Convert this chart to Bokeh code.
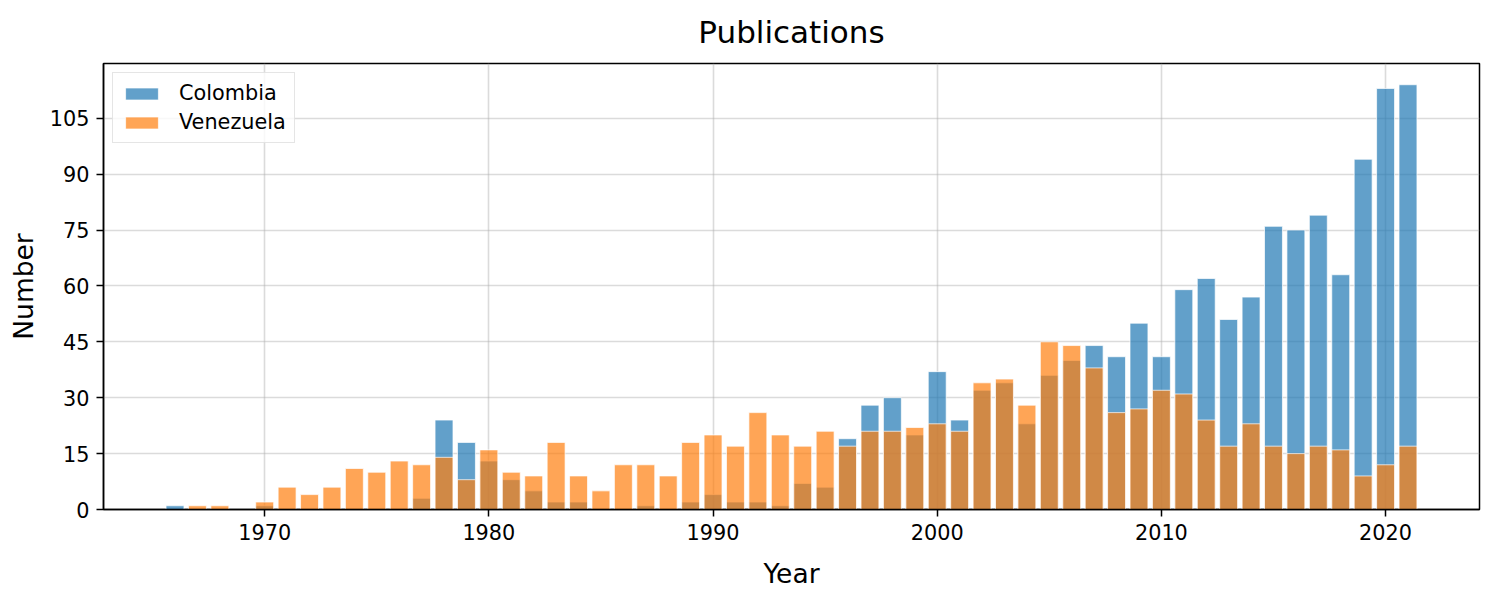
from bokeh.plotting import figure
from bokeh.models import Range1d, FixedTicker, Legend, LegendItem, ColumnDataSource
from bokeh.embed import file_html
from bokeh.resources import INLINE

# ---- data ----
colombia_years = [1966, 1970, 1977, 1978, 1979, 1980, 1981, 1982, 1983, 1984, 1987, 1989,
                  1990, 1991, 1992, 1993, 1994, 1995, 1996, 1997, 1998, 1999, 2000, 2001,
                  2002, 2003, 2004, 2005, 2006, 2007, 2008, 2009, 2010, 2011, 2012, 2013,
                  2014, 2015, 2016, 2017, 2018, 2019, 2020, 2021]
colombia = [1, 1, 3, 24, 18, 13, 8, 5, 2, 2, 1, 2,
            4, 2, 2, 1, 7, 6, 19, 28, 30, 20, 37, 24,
            32, 34, 23, 36, 40, 44, 41, 50, 41, 59, 62, 51,
            57, 76, 75, 79, 63, 94, 113, 114]

venezuela_years = [1967, 1968, 1970, 1971, 1972, 1973, 1974, 1975, 1976, 1977, 1978, 1979,
                   1980, 1981, 1982, 1983, 1984, 1985, 1986, 1987, 1988, 1989, 1990, 1991,
                   1992, 1993, 1994, 1995, 1996, 1997, 1998, 1999, 2000, 2001, 2002, 2003,
                   2004, 2005, 2006, 2007, 2008, 2009, 2010, 2011, 2012, 2013, 2014, 2015,
                   2016, 2017, 2018, 2019, 2020, 2021]
venezuela = [1, 1, 2, 6, 4, 6, 11, 10, 13, 12, 14, 8,
             16, 10, 9, 18, 9, 5, 12, 12, 9, 18, 20, 17,
             26, 20, 17, 21, 17, 21, 21, 22, 23, 21, 34, 35,
             28, 45, 44, 38, 26, 27, 32, 31, 24, 17, 23, 17,
             15, 17, 16, 9, 12, 17]

series_names = ["Colombia", "Venezuela"]
x_ticks = [1970, 1980, 1990, 2000, 2010, 2020]
y_ticks = [0, 15, 30, 45, 60, 75, 90, 105]

title_text = "Publications"
x_label = "Year"
y_label = "Number"

# ---- figure ----
FONT = "DejaVu Sans"
bar_w = 0.8
all_years = colombia_years + venezuela_years
xmin, xmax = min(all_years) - bar_w / 2, max(all_years) + bar_w / 2
xpad = (xmax - xmin) * 0.05
ymax = max(max(colombia), max(venezuela)) * 1.05

p = figure(width=1494, height=601, output_backend="svg", toolbar_location=None,
           x_range=Range1d(xmin - xpad, xmax + xpad), y_range=Range1d(0, ymax),
           min_border_left=103, min_border_right=15, min_border_top=63, min_border_bottom=92,
           title=title_text)

p.title.text_font = FONT
p.title.text_font_size = "31px"
p.title.text_font_style = "normal"
p.title.align = "center"
p.title.vertical_align = "top"
p.title.standoff = 23
p.title.text_color = "black"

blue = "#1f77b4"
orange = "#ff7f0e"

src_c = ColumnDataSource(dict(x=colombia_years, top=colombia))
src_v = ColumnDataSource(dict(x=venezuela_years, top=venezuela))
r1 = p.vbar(x="x", top="top", width=bar_w, bottom=0, source=src_c,
            fill_color=blue, fill_alpha=0.7, line_color="white", line_width=1, line_alpha=0.7)
r2 = p.vbar(x="x", top="top", width=bar_w, bottom=0, source=src_v,
            fill_color=orange, fill_alpha=0.7, line_color="white", line_width=1, line_alpha=0.7)

# axes
for ax in (p.xaxis[0], p.yaxis[0]):
    ax.major_label_text_font = FONT
    ax.major_label_text_font_size = "20.8px"
    ax.major_label_text_color = "black"
    ax.axis_label_text_font = FONT
    ax.axis_label_text_font_size = "26.5px"
    ax.axis_label_text_font_style = "normal"
    ax.axis_label_text_color = "black"
    ax.major_tick_out = 7
    ax.major_tick_in = 0
    ax.major_tick_line_width = 1.5
    ax.major_tick_line_color = "black"
    ax.minor_tick_line_color = None
    ax.axis_line_color = "black"
    ax.axis_line_width = 1.5
    ax.major_label_standoff = 7

p.xaxis.axis_label = x_label
p.yaxis.axis_label = y_label
p.xaxis.ticker = FixedTicker(ticks=x_ticks)
p.yaxis.ticker = FixedTicker(ticks=y_ticks)
p.xaxis.axis_label_standoff = 15
p.yaxis.axis_label_standoff = 8

p.xgrid.ticker = FixedTicker(ticks=x_ticks)
p.ygrid.ticker = FixedTicker(ticks=y_ticks)
for g in (p.xgrid[0], p.ygrid[0]):
    g.grid_line_color = "#b0b0b0"
    g.grid_line_alpha = 0.45
    g.grid_line_width = 1.6

p.outline_line_color = "black"
p.outline_line_width = 1.5
p.outline_line_alpha = 1.0
p.background_fill_color = "white"
p.border_fill_color = "white"

legend = Legend(items=[LegendItem(label=series_names[0], renderers=[r1]),
                       LegendItem(label=series_names[1], renderers=[r2])],
                location="top_left")
legend.label_text_font = FONT
legend.label_text_font_size = "20.8px"
legend.label_text_color = "black"
legend.glyph_width = 41
legend.glyph_height = 15
legend.label_height = 21
legend.label_standoff = 17
legend.spacing = 5
legend.padding = 8
legend.margin = 9
legend.border_line_color = "#cccccc"
legend.border_line_width = 1.5
legend.background_fill_alpha = 0.8
p.add_layout(legend)

open("out.html", "w").write(file_html(p, INLINE))
